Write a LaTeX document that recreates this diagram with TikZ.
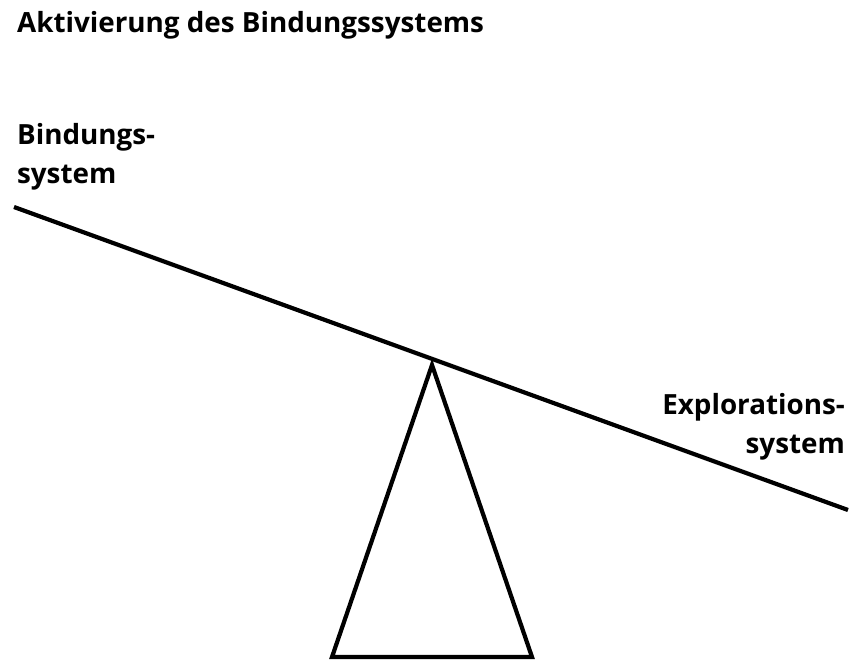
\documentclass[tikz,border=0pt]{standalone}
\usepackage{fontspec}
\setmainfont{Open Sans}
\usetikzlibrary{positioning}
\tikzstyle{seesaw}=[
  x=1pt,y=-1pt,line width=4.2pt
]
\tikzstyle{seetext}=[
  font=\bfseries\fontsize{27.8}{39}\selectfont,inner sep=0pt
]
\begin{document}
\begin{tikzpicture}[seesaw]
    \useasboundingbox (0,0) rectangle (853,661);

    \node (title) at (15,33) [seetext,anchor=base west] {Aktivierung des Bindungssystems};

    \node (bind) at (15,183) [seetext,anchor=base west,align=left] {Bindungs-\\system};
    \node (expl) at (847,453) [seetext,anchor=base east,align=right] {Explorations-\\system};

    % wippe
    \coordinate (left) at (14,207);
    \coordinate (right) at (848,510);
    \coordinate (top) at (432,365);
    \coordinate (bl) at (332,657);
    \coordinate (br) at (532,657);

    \draw (left) -- (right);
    \draw [line join=miter] (top) -- (bl) -- (br) -- cycle;

  \end{tikzpicture}
\end{document}
